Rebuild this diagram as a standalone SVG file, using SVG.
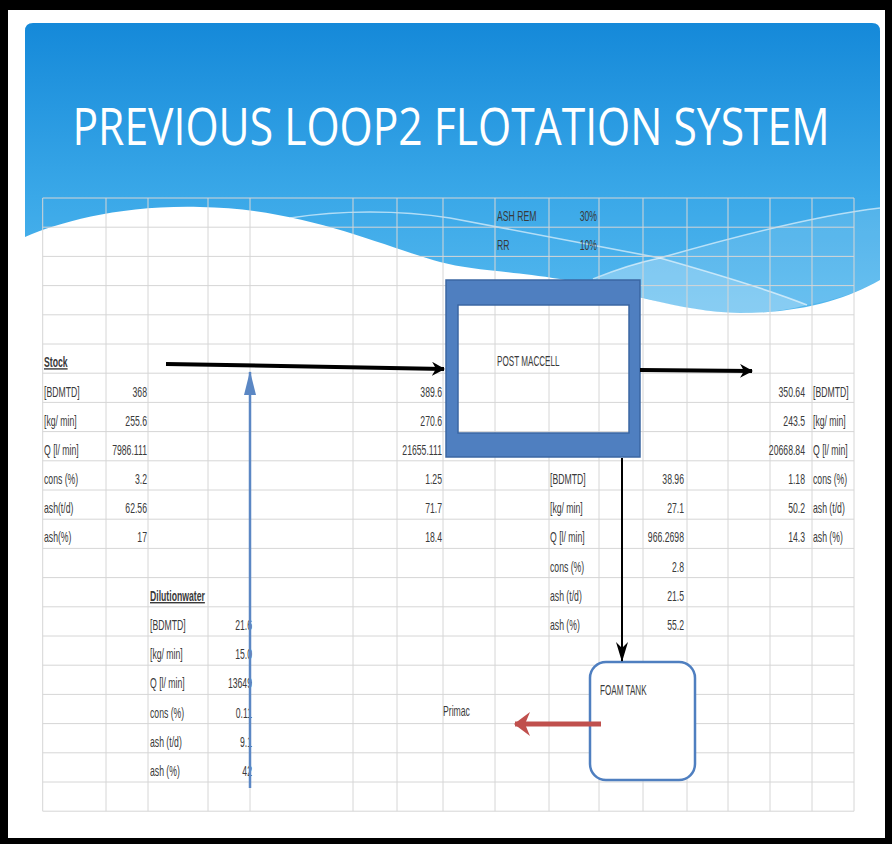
<svg xmlns="http://www.w3.org/2000/svg" width="892" height="844" viewBox="0 0 892 844">
<defs>
<linearGradient id="hdr" x1="0" y1="23" x2="0" y2="313" gradientUnits="userSpaceOnUse">
<stop offset="0" stop-color="#1589d9"/>
<stop offset="0.6" stop-color="#3aa8e8"/>
<stop offset="1" stop-color="#55b8ee"/>
</linearGradient>
<marker id="mk-black" viewBox="0 0 14 14" refX="12" refY="7" markerWidth="14" markerHeight="14" markerUnits="userSpaceOnUse" orient="auto">
<path d="M0,0 L13,7 L0,14 L4,7 Z" fill="#000"/>
</marker>
<marker id="mk-thin" viewBox="0 0 20 12" refX="19" refY="6" markerWidth="20" markerHeight="12" markerUnits="userSpaceOnUse" orient="auto">
<path d="M0,0 L20,6 L0,12 L6,6 Z" fill="#000"/>
</marker>
<marker id="mk-blue" viewBox="0 0 24 12" refX="23" refY="6" markerWidth="24" markerHeight="12" markerUnits="userSpaceOnUse" orient="auto">
<path d="M0,0 L24,6 L0,12 Z" fill="#5b87c4"/>
</marker>
<marker id="mk-red" viewBox="0 0 16 24" refX="15" refY="12" markerWidth="16" markerHeight="24" markerUnits="userSpaceOnUse" orient="auto">
<path d="M0,0 L16,12 L0,24 L5,12 Z" fill="#c0504d"/>
</marker>
</defs>
<style>
.t{font-family:"Liberation Sans",Arial,sans-serif;font-size:14px;fill:#3a3a3a}
.b{font-weight:bold;text-decoration:underline}
.e{text-anchor:end}
.g{stroke:#d6d6d6;stroke-width:1;fill:none}
.sw{stroke:#ffffff;stroke-opacity:0.6;stroke-width:1.6;fill:none}
</style>

<rect x="0" y="0" width="892" height="844" fill="#000"/>
<rect x="8" y="10" width="877" height="828" fill="#ffffff"/>

<g id="header">
<path d="M25,31 Q25,23 33,23 L872,23 Q880,23 880,31 L880,280 C845,300 800,313 740,313 C680,312 620,290 560,279 C500,270 470,270 440,262 C380,245 300,208 200,207 C120,205 60,222 25,237 Z" fill="url(#hdr)"/>
<path d="M660,258 C720,275 770,290 807,305 C780,312 760,313 740,313 C680,312 630,295 593,280 C620,268 640,262 660,258 Z" fill="#ffffff" fill-opacity="0.3"/>
<path d="M660,258 C740,235 820,215 880,208 L880,280 C860,292 835,300 807,305 C770,290 720,275 660,258 Z" fill="#ffffff" fill-opacity="0.12"/>
<path class="sw" d="M290,218 C340,210 400,210 450,218 C540,235 620,250 660,258 C720,275 770,290 807,305"/>
<path class="sw" d="M593,279 C620,268 640,262 660,258 C740,235 820,215 880,208"/>
<text transform="translate(451,145) scale(0.82,1)" text-anchor="middle" font-family="'Open Sans','Liberation Sans',sans-serif" font-size="52" fill="#ffffff">PREVIOUS LOOP2 FLOTATION SYSTEM</text>
</g>

<g id="grid">
<path class="g" d="M42.7,198V811.2M106,198V811.2M148,198V811.2M208,198V811.2M250,198V811.2M353,198V811.2M397,198V811.2M443,198V811.2M495,198V811.2M549,198V811.2M599,198V811.2M643,198V811.2M687,198V811.2M728,198V811.2M770,198V811.2M812,198V811.2M854,198V811.2"/>
<path class="g" d="M42.7,198H854M42.7,227.2H854M42.7,256.4H854M42.7,285.6H854M42.7,314.8H854M42.7,344H854M42.7,373.2H854M42.7,402.4H854M42.7,431.6H854M42.7,460.8H854M42.7,490H854M42.7,519.2H854M42.7,548.4H854M42.7,577.6H854M42.7,606.8H854M42.7,636H854M42.7,665.2H854M42.7,694.4H854M42.7,723.6H854M42.7,752.8H854M42.7,782H854M42.7,811.2H854"/>
</g>

<g id="params">
<text class="t" transform="translate(497,221) scale(0.62,1)">ASH REM</text>
<text class="t e" transform="translate(597,221) scale(0.62,1)">30%</text>
<text class="t" transform="translate(497,250) scale(0.62,1)">RR</text>
<text class="t e" transform="translate(597,250) scale(0.62,1)">10%</text>
</g>

<g id="stock">
<text class="t b" transform="translate(44,367) scale(0.62,1)">Stock</text>
<text class="t" transform="translate(44,396.5) scale(0.62,1)">[BDMTD]</text>
<text class="t e" transform="translate(147,396.5) scale(0.62,1)">368</text>
<text class="t" transform="translate(44,425.7) scale(0.62,1)">[kg/ min]</text>
<text class="t e" transform="translate(147,425.7) scale(0.62,1)">255.6</text>
<text class="t" transform="translate(44,454.9) scale(0.62,1)">Q [l/ min]</text>
<text class="t e" transform="translate(147,454.9) scale(0.62,1)">7986.111</text>
<text class="t" transform="translate(44,484) scale(0.62,1)">cons (%)</text>
<text class="t e" transform="translate(147,484) scale(0.62,1)">3.2</text>
<text class="t" transform="translate(44,513.2) scale(0.62,1)">ash(t/d)</text>
<text class="t e" transform="translate(147,513.2) scale(0.62,1)">62.56</text>
<text class="t" transform="translate(44,542.4) scale(0.62,1)">ash(%)</text>
<text class="t e" transform="translate(147,542.4) scale(0.62,1)">17</text>
</g>

<g id="feed">
<text class="t e" transform="translate(442,396.5) scale(0.62,1)">389.6</text>
<text class="t e" transform="translate(442,425.7) scale(0.62,1)">270.6</text>
<text class="t e" transform="translate(442,454.9) scale(0.62,1)">21655.111</text>
<text class="t e" transform="translate(442,484) scale(0.62,1)">1.25</text>
<text class="t e" transform="translate(442,513.2) scale(0.62,1)">71.7</text>
<text class="t e" transform="translate(442,542.4) scale(0.62,1)">18.4</text>
</g>

<g id="accept">
<text class="t e" transform="translate(805,396.5) scale(0.62,1)">350.64</text>
<text class="t" transform="translate(813,396.5) scale(0.62,1)">[BDMTD]</text>
<text class="t e" transform="translate(805,425.7) scale(0.62,1)">243.5</text>
<text class="t" transform="translate(813,425.7) scale(0.62,1)">[kg/ min]</text>
<text class="t e" transform="translate(805,454.9) scale(0.62,1)">20668.84</text>
<text class="t" transform="translate(813,454.9) scale(0.62,1)">Q [l/ min]</text>
<text class="t e" transform="translate(805,484) scale(0.62,1)">1.18</text>
<text class="t" transform="translate(813,484) scale(0.62,1)">cons (%)</text>
<text class="t e" transform="translate(805,513.2) scale(0.62,1)">50.2</text>
<text class="t" transform="translate(813,513.2) scale(0.62,1)">ash (t/d)</text>
<text class="t e" transform="translate(805,542.4) scale(0.62,1)">14.3</text>
<text class="t" transform="translate(813,542.4) scale(0.62,1)">ash (%)</text>
</g>

<g id="reject">
<text class="t" transform="translate(550,484) scale(0.62,1)">[BDMTD]</text>
<text class="t e" transform="translate(684,484) scale(0.62,1)">38.96</text>
<text class="t" transform="translate(550,513.2) scale(0.62,1)">[kg/ min]</text>
<text class="t e" transform="translate(684,513.2) scale(0.62,1)">27.1</text>
<text class="t" transform="translate(550,542.4) scale(0.62,1)">Q [l/ min]</text>
<text class="t e" transform="translate(684,542.4) scale(0.62,1)">966.2698</text>
<text class="t" transform="translate(550,571.6) scale(0.62,1)">cons (%)</text>
<text class="t e" transform="translate(684,571.6) scale(0.62,1)">2.8</text>
<text class="t" transform="translate(550,600.8) scale(0.62,1)">ash (t/d)</text>
<text class="t e" transform="translate(684,600.8) scale(0.62,1)">21.5</text>
<text class="t" transform="translate(550,630) scale(0.62,1)">ash (%)</text>
<text class="t e" transform="translate(684,630) scale(0.62,1)">55.2</text>
</g>

<g id="dilution">
<text class="t b" transform="translate(150,600.8) scale(0.62,1)">Dilutionwater</text>
<text class="t" transform="translate(150,630) scale(0.62,1)">[BDMTD]</text>
<text class="t e" transform="translate(252,630) scale(0.62,1)">21.6</text>
<text class="t" transform="translate(150,659.2) scale(0.62,1)">[kg/ min]</text>
<text class="t e" transform="translate(252,659.2) scale(0.62,1)">15.0</text>
<text class="t" transform="translate(150,688.4) scale(0.62,1)">Q [l/ min]</text>
<text class="t e" transform="translate(252,688.4) scale(0.62,1)">13649</text>
<text class="t" transform="translate(150,717.6) scale(0.62,1)">cons (%)</text>
<text class="t e" transform="translate(252,717.6) scale(0.62,1)">0.11</text>
<text class="t" transform="translate(150,746.8) scale(0.62,1)">ash (t/d)</text>
<text class="t e" transform="translate(252,746.8) scale(0.62,1)">9.1</text>
<text class="t" transform="translate(150,776) scale(0.62,1)">ash (%)</text>
<text class="t e" transform="translate(252,776) scale(0.62,1)">42</text>
</g>

<g id="post-maccell">
<path d="M446,280H640V457H446Z M458,305H629V433H458Z" fill-rule="evenodd" fill="#4f7fc0" stroke="#3b67a3" stroke-width="1.5"/>
<text class="t" transform="translate(497,366) scale(0.58,1)">POST MACCELL</text>
</g>

<g id="foam-tank">
<rect x="590" y="662" width="105" height="118" rx="16" fill="#ffffff" stroke="#4f7fc0" stroke-width="2.5"/>
<text class="t" transform="translate(600,695) scale(0.58,1)">FOAM TANK</text>
</g>

<g id="primac">
<text class="t" transform="translate(443,716) scale(0.62,1)">Primac</text>
</g>

<g id="connectors">
<path d="M166,364 L444,369" stroke="#000" stroke-width="4" fill="none" marker-end="url(#mk-black)"/>
<path d="M640,370 L752,371" stroke="#000" stroke-width="4" fill="none" marker-end="url(#mk-black)"/>
<path d="M622,458 L622,661" stroke="#000" stroke-width="2" fill="none" marker-end="url(#mk-thin)"/>
<path d="M250,788 L250,372" stroke="#5b87c4" stroke-width="2.5" fill="none" marker-end="url(#mk-blue)"/>
<path d="M601,724 L515,724" stroke="#c0504d" stroke-width="5" fill="none" marker-end="url(#mk-red)"/>
</g>
</svg>
